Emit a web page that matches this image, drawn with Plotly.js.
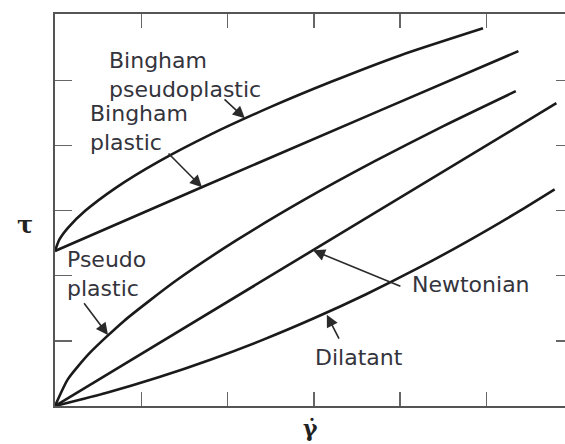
<!DOCTYPE html>
<html>
<head>
<meta charset="utf-8">
<script src="https://cdn.plot.ly/plotly-3.0.1.min.js"></script>
<style>html,body{margin:0;padding:0;background:#fff;}</style>
</head>
<body>
<div id="chart" style="width:565px;height:444px;"></div>
<script>
// Shear rate (x) and shear stress (y) values
const binghamPseudoX = [0, 0.05, 0.15, 0.35, 0.7, 1.2, 1.8, 2.5, 3.2, 4.0, 4.96];
const binghamPseudoY = [2.38, 2.554, 2.736, 2.997, 3.347, 3.753, 4.168, 4.593, 4.979, 5.384, 5.80];

const binghamPlasticX = [0, 1.70, 3.77, 5.37];
const binghamPlasticY = [2.38, 3.36, 4.54, 5.45];

const pseudoX = [0, 0.15, 0.4, 0.8, 1.4, 2.1, 2.9, 3.7, 4.5, 5.34];
const pseudoY = [0, 0.413, 0.811, 1.307, 1.923, 2.542, 3.176, 3.756, 4.299, 4.835];

const newtonX = [0, 5.81];
const newtonY = [0, 4.65];

const dilatantX = [0, 0.6, 1.2, 1.8, 2.4, 3.0, 3.6, 4.2, 4.8, 5.4, 5.79];
const dilatantY = [0, 0.204, 0.441, 0.711, 1.012, 1.347, 1.713, 2.112, 2.544, 3.008, 3.327];

const tickVals = [1, 2, 3, 4, 5];

// Labels
const labelTexts = ['Bingham<br>pseudoplastic', 'Bingham<br>plastic', 'Pseudo<br>plastic', 'Newtonian', 'Dilatant'];
const labelX = [0.60, 0.38, 0.116, 4.11, 2.99];
const labelY = [5.08, 4.27, 2.03, 1.86, 0.75];

// Arrows: tail -> tip
const arrowTailX = [1.947, 1.298, 0.324, 4.02, 3.30];
const arrowTailY = [4.73, 3.90, 1.60, 1.83, 1.01];
const arrowTipX = [2.20, 1.703, 0.614, 2.99, 3.15];
const arrowTipY = [4.42, 3.36, 1.09, 2.39, 1.40];

function curve(x, y, name, shape) {
  return {x: x, y: y, name: name, type: 'scatter', mode: 'lines',
          line: {color: '#1a1a1a', width: 2.6, shape: shape, smoothing: 0.6}, hoverinfo: 'skip'};
}
const traces = [
  curve(binghamPseudoX, binghamPseudoY, 'Bingham pseudoplastic', 'spline'),
  curve(binghamPlasticX, binghamPlasticY, 'Bingham plastic', 'linear'),
  curve(pseudoX, pseudoY, 'Pseudoplastic', 'spline'),
  curve(newtonX, newtonY, 'Newtonian', 'linear'),
  curve(dilatantX, dilatantY, 'Dilatant', 'spline'),
  // invisible trace to activate right-side tick axis
  {x: [0], y: [0], yaxis: 'y2', mode: 'markers', marker: {opacity: 0}, hoverinfo: 'skip', showlegend: false}
];

const labelFont = {family: 'DejaVu Sans, Arial, sans-serif', size: 22, color: '#34343c'};
const annotations = [];
for (let i = 0; i < labelTexts.length; i++) {
  annotations.push({
    x: labelX[i], y: labelY[i], xref: 'x', yref: 'y',
    text: labelTexts[i], showarrow: false, xanchor: 'left', yanchor: 'middle',
    align: 'left', font: labelFont
  });
}
for (let i = 0; i < arrowTipX.length; i++) {
  annotations.push({
    x: arrowTipX[i], y: arrowTipY[i], ax: arrowTailX[i], ay: arrowTailY[i],
    xref: 'x', yref: 'y', axref: 'x', ayref: 'y',
    text: '', showarrow: true, arrowhead: 2, arrowsize: 1.5, arrowwidth: 1.6,
    arrowcolor: '#2a2a2a', standoff: 0, startstandoff: 0
  });
}
annotations.push({
  xref: 'paper', yref: 'paper', x: -0.0588, y: 0.462, text: 'τ', showarrow: false,
  xanchor: 'center', yanchor: 'middle',
  font: {family: 'DejaVu Serif, serif', size: 24, color: '#222', weight: 'bold'}
});
annotations.push({
  xref: 'paper', yref: 'paper', x: 0.5, y: -0.018, text: 'γ̇', showarrow: false,
  xanchor: 'center', yanchor: 'top',
  font: {family: 'DejaVu Serif, serif', size: 22, color: '#222', weight: 'bold'}
});

const layout = {
  width: 565, height: 444,
  margin: {l: 55, r: 0, t: 14, b: 38},
  paper_bgcolor: '#fff', plot_bgcolor: '#fff',
  showlegend: false,
  xaxis: {
    range: [0, 5.91], showgrid: false, zeroline: false,
    showline: true, linecolor: '#555', linewidth: 1.6, mirror: 'ticks',
    ticks: 'inside', ticklen: 14, tickwidth: 1.4, tickcolor: '#666',
    tickvals: tickVals, showticklabels: false, fixedrange: true
  },
  yaxis: {
    range: [0, 6.02], showgrid: false, zeroline: false,
    showline: true, linecolor: '#555', linewidth: 1.6,
    ticks: 'inside', ticklen: 17, tickwidth: 1.4, tickcolor: '#666',
    tickvals: tickVals, showticklabels: false, fixedrange: true
  },
  yaxis2: {
    overlaying: 'y', side: 'right', range: [0, 6.02], showgrid: false, zeroline: false,
    showline: false, ticks: 'inside', ticklen: 9, tickwidth: 1.4, tickcolor: '#666',
    tickvals: tickVals, showticklabels: false, fixedrange: true
  },
  annotations: annotations
};

Plotly.newPlot('chart', traces, layout, {displayModeBar: false, staticPlot: true});
</script>
</body>
</html>
